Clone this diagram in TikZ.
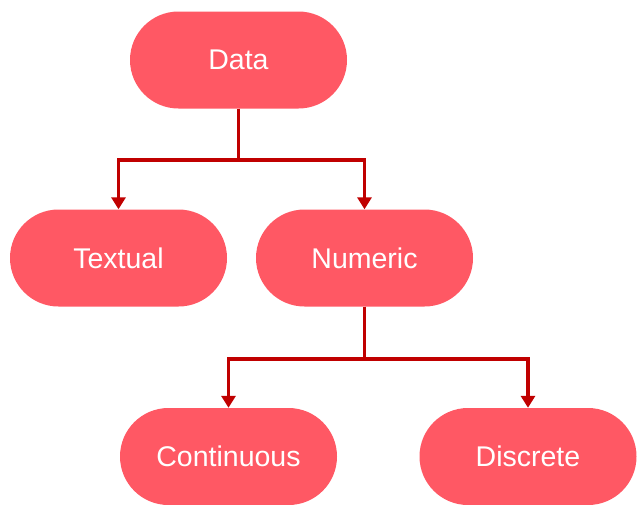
\documentclass[tikz,border=0pt]{standalone}
\usepackage{fontspec}
\setmainfont{Liberation Sans}
\usetikzlibrary{arrows.meta}
\definecolor{boxfill}{RGB}{255,88,100}
\definecolor{linecol}{RGB}{192,0,0}
\begin{document}
\begin{tikzpicture}[x=1pt,y=-1pt,
  pill/.style={draw=none,fill=boxfill,rounded corners=48.5pt,minimum width=217pt,minimum height=97pt,inner sep=0pt,text=white,font=\fontsize{28.5}{34}\selectfont},
  conn/.style={draw=linecol,line width=3.6pt,-{Triangle[width=14pt,length=12pt]}}]
\useasboundingbox (0,0) rectangle (637,504);
\node[pill] (data) at (238.5,60) {Data};
\node[pill] (textual) at (118.5,258) {Textual};
\node[pill] (numeric) at (364.5,258) {Numeric};
\node[pill] (cont) at (228.5,456.5) {Continuous};
\node[pill] (disc) at (528,456.5) {Discrete};
\draw[conn] (data.south) -- ++(0,51) -| (textual.north);
\draw[conn] (data.south) -- ++(0,51) -| (numeric.north);
\draw[conn] (numeric.south) -- ++(0,52) -| (cont.north);
\draw[conn] (numeric.south) -- ++(0,52) -| (disc.north);
\end{tikzpicture}
\end{document}
